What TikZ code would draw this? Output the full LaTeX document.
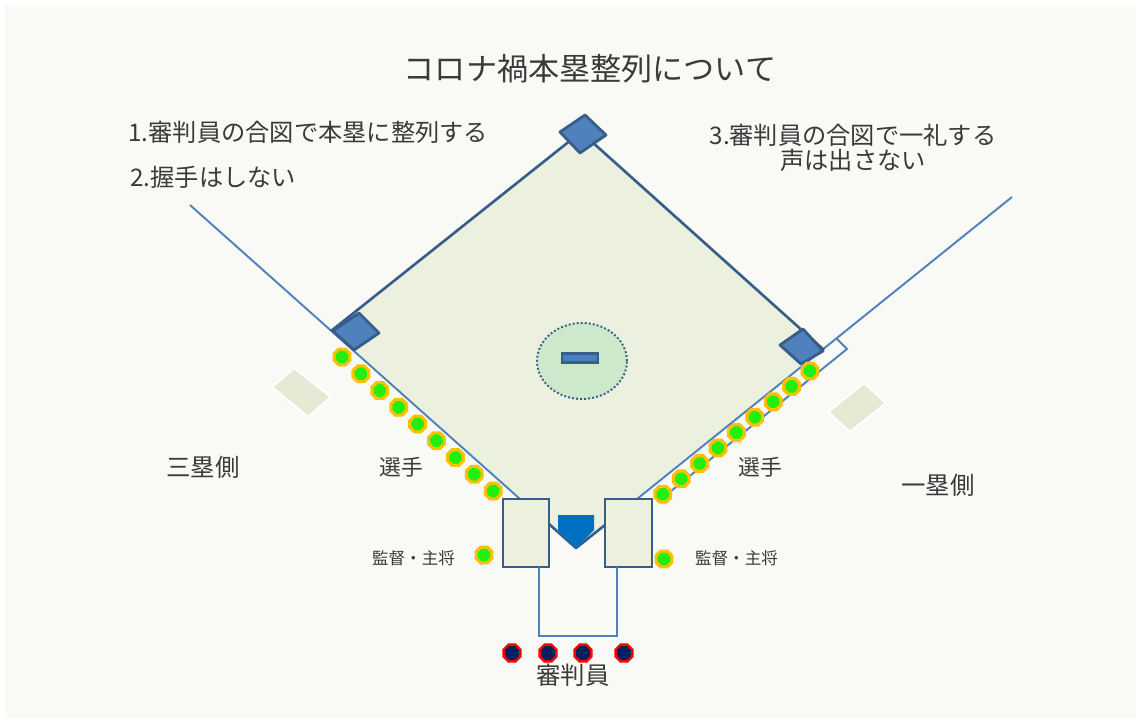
\documentclass[tikz,border=0pt]{standalone}
\usepackage{fontspec}
\setmainfont{Noto Sans CJK JP}
\usetikzlibrary{shapes.geometric}

\definecolor{paper}{HTML}{F9FAF5}
\definecolor{infield}{HTML}{EBF1DE}
\definecolor{edgeblue}{HTML}{385D8A}
\definecolor{lineblue}{HTML}{4F81BD}
\definecolor{plateblue}{HTML}{0070C0}
\definecolor{moundgreen}{HTML}{CDE8CB}
\definecolor{coachgreen}{HTML}{E4EAD3}
\definecolor{playergreen}{HTML}{22EE11}
\definecolor{playerring}{HTML}{FFC000}
\definecolor{umpnavy}{HTML}{002060}
\definecolor{rubberblue}{HTML}{4682BE}
\definecolor{inkgray}{HTML}{3A3A3A}

\begin{document}
\begin{tikzpicture}[x=0.02cm, y=-0.02cm,
    fieldedge/.style={draw=edgeblue, line width=1.5pt, line join=round},
    foulline/.style={draw=lineblue, line width=1.1pt, line join=miter},
    basebag/.style={fill=lineblue, draw=edgeblue, line width=1.6pt, line join=round},
    coachbox/.style={fill=coachgreen, draw=white, line width=1.2pt},
    batterbox/.style={rectangle, fill=infield, draw=edgeblue, line width=1.5pt, inner sep=0pt},
    mound/.style={ellipse, fill=moundgreen, draw=edgeblue, line width=1.1pt, dash pattern=on 1.1pt off 1.2pt, inner sep=0pt},
    rubber/.style={rectangle, fill=rubberblue, draw=edgeblue, line width=1.2pt, inner sep=0pt},
    player/.style={regular polygon, regular polygon sides=8, minimum size=0.34cm, inner sep=0pt, fill=playergreen, draw=playerring, line width=1.8pt},
    umpire/.style={regular polygon, regular polygon sides=8, minimum size=0.36cm, inner sep=0pt, fill=umpnavy, draw=red, line width=1.4pt},
    heading/.style={font=\fontsize{17.7}{21}\selectfont, text=inkgray, inner sep=0pt},
    note/.style={font=\fontsize{13.8}{14.2}\selectfont, text=inkgray, inner sep=0pt},
    sidelabel/.style={font=\fontsize{13.9}{16}\selectfont, text=inkgray, inner sep=0pt},
    teamlabel/.style={font=\fontsize{12.4}{14}\selectfont, text=inkgray, inner sep=0pt},
    tinylabel/.style={font=\fontsize{9.4}{11}\selectfont, text=inkgray, inner sep=0pt}
  ]
    \useasboundingbox (0,0) rectangle (1140,721);
    \fill[paper] (5,5) rectangle (1136,718);

    % Coach boxes
    \draw[coachbox] (272,387) -- (294,368) -- (331,397) -- (308,417) -- cycle;
    \draw[coachbox] (828,412) -- (864,383) -- (886,403) -- (850,432) -- cycle;

    % Infield
    \coordinate (fieldTop) at (581,132);
    \coordinate (fieldRight) at (824,350);
    \coordinate (fieldHome) at (576,548);
    \coordinate (fieldLeft) at (331,331);
    \fill[infield] (fieldTop) -- (fieldRight) -- (fieldHome) -- (fieldLeft) -- cycle;

    % Pitcher's mound
    \node[mound, minimum width=1.8cm, minimum height=1.52cm] (pitcherMound) at (582,361) {};
    \node[rubber, minimum width=0.72cm, minimum height=0.18cm] (pitcherPlate) at (580,358) {};

    % Foul lines and running lane
    \coordinate (leftPole) at (190,205);
    \coordinate (rightPole) at (1012,197);
    \coordinate (leftBoxTop) at (520,499);
    \coordinate (rightBoxTop) at (637,499);
    \draw[foulline] (leftPole) -- (leftBoxTop);
    \draw[foulline] (rightPole) -- (rightBoxTop);
    \draw[foulline] (837,339) -- (847,349) -- (660,500);

    % Infield edges
    \draw[fieldedge] (fieldLeft) -- (fieldTop) -- (fieldRight);
    \draw[fieldedge] (549,524) -- (fieldHome) -- (605,525);

    % Home plate
    \fill[plateblue] (558,515) -- (594,515) -- (594,530) -- (576,548) -- (558,530) -- cycle;

    % Batter boxes and catcher box
    \node[batterbox, minimum width=0.92cm, minimum height=1.36cm] (leftBox) at (526,533) {};
    \node[batterbox, minimum width=0.94cm, minimum height=1.36cm] (rightBox) at (628.5,533) {};
    \draw[foulline] (539,567) -- (539,636) -- (617,636) -- (617,567);

    % Bases
    \draw[basebag] (585,115) -- (606,135) -- (580,153) -- (560,132) -- cycle;
    \draw[basebag] (359,313) -- (379,333) -- (354,350) -- (333,331) -- cycle;
    \draw[basebag] (803,329) -- (823,351) -- (801,364) -- (780,345) -- cycle;

    % Players
    \foreach \i in {0,...,8}
      \node[player] (thirdSide\i) at ({342+18.9*\i},{357+16.75*\i}) {};
    \foreach \i in {0,...,8}
      \node[player] (firstSide\i) at ({810-18.4*\i},{371+15.4*\i}) {};
    \node[player] (thirdCoach) at (484,555) {};
    \node[player] (firstCoach) at (664,559) {};

    % Umpires
    \foreach \x [count=\n] in {512,548,583,624}
      \node[umpire] (umpire\n) at (\x,653) {};

    % Texts
    \node[heading] (titleText) at (590,69) {コロナ禍本塁整列について};
    \node[note, anchor=west] (ruleOne) at (128,132) {1.審判員の合図で本塁に整列する};
    \node[note, anchor=west] (ruleTwo) at (130,177) {2.握手はしない};
    \node[note, align=center] (ruleThree) at (853,148) {3.審判員の合図で一礼する\\声は出さない};
    \node[sidelabel] (thirdSideText) at (203,467) {三塁側};
    \node[sidelabel] (firstSideText) at (938,485) {一塁側};
    \node[teamlabel] (thirdTeamText) at (401,467) {選手};
    \node[teamlabel] (firstTeamText) at (760,467) {選手};
    \node[tinylabel] (thirdCoachText) at (413.5,558) {監督・主将};
    \node[tinylabel] (firstCoachText) at (736.5,558) {監督・主将};
    \node[sidelabel] (umpireText) at (573,675) {審判員};
  \end{tikzpicture}
\end{document}
